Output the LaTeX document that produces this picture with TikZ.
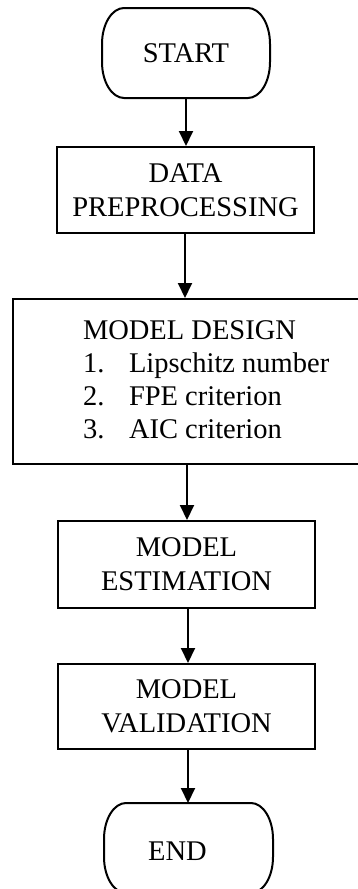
\documentclass[tikz,border=0pt]{standalone}
\usepackage{fontspec}
\setmainfont{Liberation Serif}
\usetikzlibrary{arrows.meta}
\begin{document}
\begin{tikzpicture}[x=1pt,y=-1pt,line width=2pt,
  txt/.style={font=\fontsize{28.5}{34}\selectfont,inner sep=0pt},
  procbox/.style={draw,rectangle,inner sep=0pt,align=center,font=\fontsize{28.5}{34}\selectfont},
  termbox/.style={rectangle,inner sep=0pt,font=\fontsize{28.5}{34}\selectfont},
  arr/.style={-{Triangle[length=15pt,width=14pt]},line width=2pt}]
\useasboundingbox (0,0) rectangle (357,889);
% terminator outline
\newcommand{\termshape}[1]{%
  \draw ([xshift=22pt]#1.north west) -- ([xshift=-22pt]#1.north east)
    arc[start angle=90,end angle=0,x radius=22pt,y radius=36pt]
    -- ([yshift=36pt]#1.south east)
    arc[start angle=0,end angle=-90,x radius=22pt,y radius=36pt]
    -- ([xshift=22pt]#1.south west)
    arc[start angle=-90,end angle=-180,x radius=22pt,y radius=36pt]
    -- ([yshift=-36pt]#1.north west)
    arc[start angle=180,end angle=90,x radius=22pt,y radius=36pt] -- cycle;}

\node[termbox,minimum width=166pt,minimum height=88pt] (start) at (186,53) {START};
\termshape{start}

\node[procbox,minimum width=257pt,minimum height=86pt] (dp) at (185.5,190) {DATA\\PREPROCESSING};

\node[draw,rectangle,inner sep=0pt,minimum width=347pt,minimum height=165pt] (md) at (186.5,381.5) {};
\node[txt,anchor=base west] (mdt) at (82,339) {MODEL DESIGN};
\node[txt,anchor=base west] (n1) at (82,372) {1.};
\node[txt,anchor=base west] (i1) at (128,372) {Lipschitz number};
\node[txt,anchor=base west] (n2) at (82,405) {2.};
\node[txt,anchor=base west] (i2) at (128,405) {FPE criterion};
\node[txt,anchor=base west] (n3) at (82,438) {3.};
\node[txt,anchor=base west] (i3) at (128,438) {AIC criterion};

\node[procbox,minimum width=257pt,minimum height=87pt] (me) at (186.5,564.5) {MODEL\\ESTIMATION};
\node[procbox,minimum width=257pt,minimum height=85pt] (mv) at (186.5,706.5) {MODEL\\VALIDATION};

\node[termbox,minimum width=167pt,minimum height=88pt] (end) at (188.5,848) {};
\termshape{end}
\node[txt,anchor=base] (endt) at (177.5,860) {END};

\draw[arr] (start.south) -- (start.south |- dp.north);
\draw[arr] ([xshift=-0.5pt]dp.south) -- ([xshift=-0.5pt]dp.south |- md.north);
\draw[arr] ([xshift=0.5pt]md.south) -- ([xshift=0.5pt]md.south |- me.north);
\draw[arr] ([xshift=1.5pt]me.south) -- ([xshift=1.5pt]me.south |- mv.north);
\draw[arr] ([xshift=1.5pt]mv.south) -- ([xshift=1.5pt]mv.south |- end.north);
\end{tikzpicture}
\end{document}
